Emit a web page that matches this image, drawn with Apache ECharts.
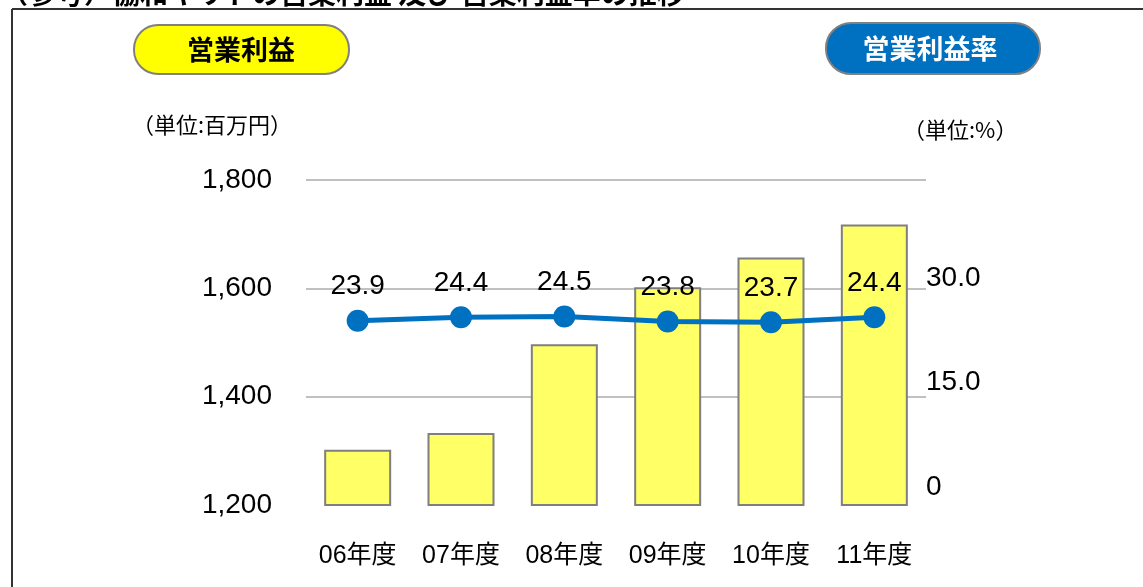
<!DOCTYPE html>
<html>
<head>
<meta charset="utf-8">
<script src="https://cdn.jsdelivr.net/npm/echarts@6/dist/echarts.min.js"></script>
<style>
html,body{margin:0;padding:0;background:#fff;}
#c{width:1143px;height:587px;}
</style>
</head>
<body>
<div id="c"></div>
<script>
const categories = ['06年度','07年度','08年度','09年度','10年度','11年度'];
const profit = [1302, 1333, 1497, 1602, 1657, 1718];
const profitRate = [23.9, 24.4, 24.5, 23.8, 23.7, 24.4];
const leftTicks = {min: 1200, max: 1800, interval: 200};
const rightTicks = [0, 15, 30];

const FONT = '"Liberation Sans", Arial, "Noto Sans CJK JP", sans-serif';
const chart = echarts.init(document.getElementById('c'));
chart.setOption({
  backgroundColor: '#fff',
  animation: false,
  textStyle: {fontFamily: FONT},
  grid: [
    {left: 306, right: 217, top: 180, bottom: 82},
    {left: 306, right: 217, top: 174, bottom: 100}
  ],
  xAxis: [
    {type: 'category', gridIndex: 0, data: categories,
     axisLine: {show: false}, axisTick: {show: false},
     axisLabel: {color: '#000', fontSize: 25, margin: 39, interval: 0, hideOverlap: false, fontFamily: FONT}},
    {type: 'category', gridIndex: 1, data: categories, show: false}
  ],
  yAxis: [
    {type: 'value', gridIndex: 0, min: leftTicks.min, max: leftTicks.max, interval: leftTicks.interval,
     axisLine: {show: false}, axisTick: {show: false},
     axisLabel: {color: '#000', fontSize: 28, margin: 34, fontFamily: FONT,
       formatter: v => v.toLocaleString('en-US')},
     splitLine: {showMinLine: false, lineStyle: {color: '#c0c0c0', width: 2}}},
    {type: 'value', gridIndex: 1, position: 'right', min: 0, max: 45, interval: 15,
     axisLine: {show: false}, axisTick: {show: false}, splitLine: {show: false},
     axisLabel: {color: '#000', fontSize: 28, margin: 0, fontFamily: FONT,
       formatter: v => rightTicks.indexOf(v) < 0 ? '' : (v === 0 ? '0' : v.toFixed(1))}}
  ],
  series: [
    {type: 'bar', xAxisIndex: 0, yAxisIndex: 0, data: profit, barWidth: 67,
     itemStyle: {color: '#FFFF66', borderColor: '#7f7f7f', borderWidth: 2}},
    {type: 'line', xAxisIndex: 1, yAxisIndex: 1, data: profitRate,
     symbol: 'circle', symbolSize: 22,
     lineStyle: {color: '#0070C0', width: 5},
     itemStyle: {color: '#0070C0'},
     label: {show: true, position: 'top', distance: 9, color: '#000', fontSize: 28, fontFamily: FONT,
       formatter: p => p.value.toFixed(1)}}
  ],
  graphic: [
    {type: 'text', left: 0, top: -21, z: 10,
     style: {text: '（参考）協和キリトの営業利益 及び 営業利益率の推移', fill: '#000',
       font: 'bold 28px "Noto Sans CJK JP", sans-serif'}},
    {type: 'line', z: 10, shape: {x1: 12, y1: 9, x2: 1143, y2: 9}, style: {stroke: '#333', lineWidth: 2}},
    {type: 'line', z: 10, shape: {x1: 12, y1: 9, x2: 12, y2: 587}, style: {stroke: '#333', lineWidth: 2}},
    {type: 'rect', z: 10, shape: {x: 134, y: 25, width: 215, height: 49, r: 24},
     style: {fill: '#FFFF00', stroke: '#808080', lineWidth: 2}},
    {type: 'text', z: 11, x: 241, y: 50,
     style: {text: '営業利益', fill: '#000', align: 'center', verticalAlign: 'middle',
       font: 'bold 27px "Noto Sans CJK JP", sans-serif'}},
    {type: 'rect', z: 10, shape: {x: 826, y: 23, width: 214, height: 51, r: 25},
     style: {fill: '#0070C0', stroke: '#808080', lineWidth: 2}},
    {type: 'text', z: 11, x: 930, y: 49,
     style: {text: '営業利益率', fill: '#fff', align: 'center', verticalAlign: 'middle',
       font: 'bold 27px "Noto Sans CJK JP", sans-serif'}},
    {type: 'text', z: 10, x: 132, y: 125,
     style: {text: '（単位:百万円）', fill: '#000', verticalAlign: 'middle',
       font: '22px "Noto Sans CJK JP", sans-serif'}},
    {type: 'text', z: 10, x: 903, y: 130,
     style: {text: '（単位:%）', fill: '#000', verticalAlign: 'middle',
       font: '22px "Noto Sans CJK JP", sans-serif'}}
  ]
});
</script>
</body>
</html>
